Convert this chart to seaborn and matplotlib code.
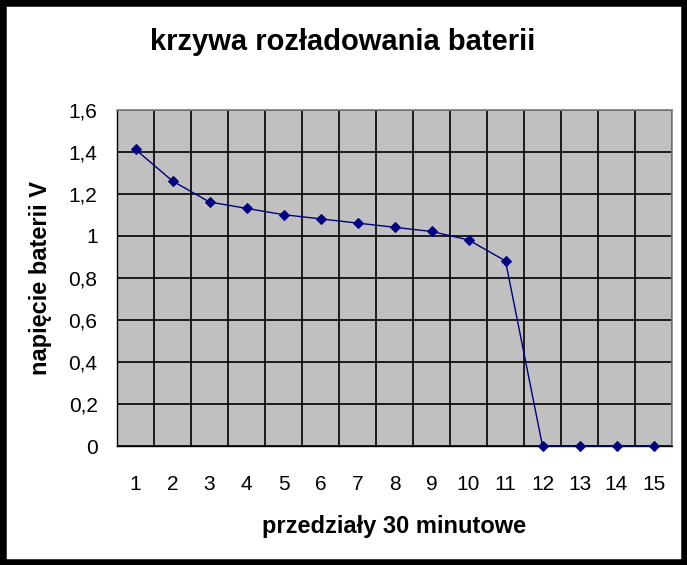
import numpy as np
import pandas as pd
import matplotlib
matplotlib.use("Agg")
import matplotlib.pyplot as plt
from matplotlib.patches import Rectangle
import seaborn as sns

# data
interwaly = list(range(1, 16))
napiecie = [1.41, 1.26, 1.16, 1.13, 1.10, 1.08, 1.06, 1.04, 1.02, 0.98, 0.88, 0, 0, 0, 0]
y_ticks = [0, 0.2, 0.4, 0.6, 0.8, 1.0, 1.2, 1.4, 1.6]
y_labels = ["0", "0,2", "0,4", "0,6", "0,8", "1", "1,2", "1,4", "1,6"]

df = pd.DataFrame({"przedzial": interwaly, "napiecie": napiecie})

sns.set_style("white")
plt.rcParams["font.family"] = ["Liberation Sans", "DejaVu Sans"]
plt.rcParams["text.color"] = "black"
plt.rcParams["axes.labelcolor"] = "black"
plt.rcParams["xtick.labelcolor"] = "black"
plt.rcParams["ytick.labelcolor"] = "black"

W, H = 687, 565
fig = plt.figure(figsize=(W / 100, H / 100), dpi=100)
left, right, top, bottom = 117, 672, 109.5, 446
ax = fig.add_axes([left / W, 1 - bottom / H, (right - left) / W, (bottom - top) / H])
ax.set_facecolor("#c0c0c0")

sns.lineplot(data=df, x="przedzial", y="napiecie", ax=ax, color="#000080",
             marker="D", markersize=5, markeredgecolor="#000080", linewidth=1,
             zorder=3, clip_on=False)

ax.set_xlim(0.5, 15.5)
ax.set_ylim(0, 1.6)

ax.set_xticks(interwaly)
ax.set_xticklabels([str(i) for i in interwaly], fontsize=15)
ax.set_xticks(np.arange(0.5, 16, 1), minor=True)
ax.tick_params(axis="x", which="major", length=0, pad=21, labelcolor="black")
ax.tick_params(axis="x", which="minor", length=7, width=1, color="black", direction="out")

ax.set_yticks(y_ticks)
ax.set_yticklabels(y_labels, fontsize=15)
ax.tick_params(axis="y", which="major", length=8, width=1, color="black", direction="out",
               pad=6, labelcolor="black")

ax.grid(True, axis="y", which="major", color="black", linewidth=1.2)
ax.grid(True, axis="x", which="minor", color="black", linewidth=1.2)
ax.set_axisbelow(True)

for side in ["top", "right"]:
    ax.spines[side].set_color("#808080")
    ax.spines[side].set_linewidth(1.2)
for side in ["left", "bottom"]:
    ax.spines[side].set_color("black")
    ax.spines[side].set_linewidth(1)

ax.set_xlabel("przedziały 30 minutowe", fontsize=17, fontweight="bold", labelpad=15, color="black")
ax.set_ylabel("napięcie baterii V", fontsize=17, fontweight="bold", labelpad=12, color="black")

fig.text(343 / W, 1 - 42 / H, "krzywa rozładowania baterii", ha="center", va="center",
         fontsize=21, fontweight="bold", color="black")

# black frame around the whole picture
fig.add_artist(Rectangle((0, 0), 1, 1, transform=fig.transFigure, fill=False,
                         edgecolor="black", linewidth=9))

fig.savefig("out.png", dpi=100)
